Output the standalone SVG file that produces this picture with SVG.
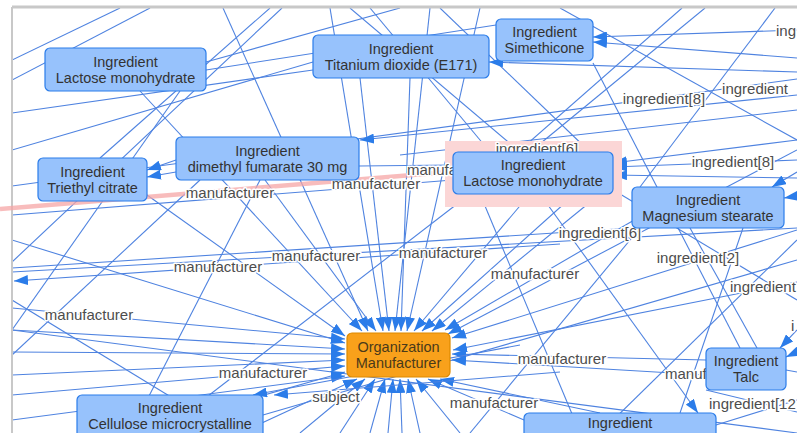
<svg xmlns="http://www.w3.org/2000/svg" width="797" height="433" viewBox="0 0 797 433">
<style>
.e{stroke:#4f83e0;stroke-width:1.1;fill:none}
.a{marker-end:url(#ah)}
.n{fill:#97C2FC;stroke:#2B7CE9;stroke-width:1.2}
.t{font-family:"Liberation Sans",Arial,sans-serif;font-size:14.5px;fill:#333;text-anchor:middle}
.l{font-family:"Liberation Sans",Arial,sans-serif;font-size:15px;fill:#4d4d4d;stroke:#fff;stroke-width:3;paint-order:stroke;stroke-linejoin:round}
.m{text-anchor:middle}
</style>
<defs>
<marker id="ah" viewBox="0 0 14 10" refX="14" refY="5" markerWidth="14" markerHeight="10" markerUnits="userSpaceOnUse" orient="auto"><path d="M0,0 L14,5 L0,10 z" fill="#2B7CE9"/></marker>
<clipPath id="cp"><rect x="12" y="8" width="785" height="425"/></clipPath>
</defs>
<rect width="797" height="433" fill="#fff"/>
<g id="connectors" clip-path="url(#cp)">
<g class="e">
<line x1="12" y1="60" x2="120" y2="8"/>
<line x1="206" y1="62" x2="400" y2="8"/>
<line x1="12" y1="113" x2="313" y2="70"/>
<line x1="180" y1="91" x2="12" y2="330"/>
<line x1="270" y1="8" x2="100" y2="158"/>
<line x1="282" y1="8" x2="12" y2="262"/>
<line x1="12" y1="186" x2="797" y2="79"/>
<line x1="12" y1="272" x2="797" y2="228"/>
<line x1="12" y1="215" x2="453" y2="180"/>
<line x1="593" y1="63" x2="740" y2="348"/>
<line x1="12" y1="268" x2="632" y2="228"/>
<line x1="400" y1="155" x2="797" y2="110"/>
<line x1="706" y1="390" x2="797" y2="412"/>
<line x1="743" y1="228" x2="680" y2="413"/>
<line x1="690" y1="228" x2="757" y2="348"/>
<line x1="480" y1="194" x2="580" y2="433"/>
<line x1="130" y1="433" x2="260" y2="180"/>
<line x1="12" y1="355" x2="200" y2="180"/>
<line x1="160" y1="433" x2="470" y2="194"/>
<line x1="263" y1="415" x2="797" y2="260"/>
<line x1="350" y1="8" x2="520" y2="152"/>
<line x1="370" y1="8" x2="490" y2="152"/>
<line x1="682" y1="8" x2="470" y2="194"/>
<line x1="705" y1="8" x2="530" y2="152"/>
<line x1="775" y1="8" x2="640" y2="187"/>
<line x1="206" y1="70" x2="496" y2="25"/>
<line x1="12" y1="150" x2="313" y2="62"/>
<line x1="359" y1="166" x2="453" y2="165"/>
<line x1="716" y1="425" x2="797" y2="400"/>
<line x1="786" y1="370" x2="797" y2="372"/>
<line x1="560" y1="8" x2="797" y2="140"/>
<line x1="12" y1="330" x2="797" y2="433"/>
<line x1="440" y1="8" x2="590" y2="152"/>
<line x1="150" y1="8" x2="12" y2="80"/>
<line x1="620" y1="194" x2="797" y2="300"/>
<line x1="230" y1="433" x2="12" y2="300"/>
<line x1="600" y1="433" x2="797" y2="240"/>
<line x1="470" y1="433" x2="640" y2="228"/>
</g>
<g class="e a">
<line x1="140" y1="91" x2="362" y2="331"/>
<line x1="223" y1="8" x2="368" y2="331"/>
<line x1="265" y1="180" x2="376" y2="331"/>
<line x1="330" y1="8" x2="383" y2="331"/>
<line x1="360" y1="78" x2="389" y2="331"/>
<line x1="430" y1="8" x2="395" y2="331"/>
<line x1="410" y1="78" x2="401" y2="331"/>
<line x1="480" y1="8" x2="407" y2="331"/>
<line x1="530" y1="194" x2="414" y2="331"/>
<line x1="575" y1="194" x2="422" y2="331"/>
<line x1="600" y1="194" x2="432" y2="331"/>
<line x1="660" y1="205" x2="445" y2="330"/>
<line x1="797" y1="150" x2="448" y2="334"/>
<line x1="797" y1="230" x2="452" y2="338"/>
<line x1="797" y1="282" x2="453" y2="350"/>
<line x1="706" y1="360" x2="452" y2="354"/>
<line x1="706" y1="375" x2="452" y2="360"/>
<line x1="524" y1="420" x2="428" y2="379"/>
<line x1="600" y1="413" x2="440" y2="379"/>
<line x1="460" y1="433" x2="416" y2="379"/>
<line x1="420" y1="433" x2="408" y2="379"/>
<line x1="402" y1="433" x2="400" y2="379"/>
<line x1="388" y1="433" x2="393" y2="379"/>
<line x1="370" y1="433" x2="385" y2="379"/>
<line x1="340" y1="433" x2="375" y2="379"/>
<line x1="300" y1="433" x2="365" y2="379"/>
<line x1="240" y1="433" x2="357" y2="379"/>
<line x1="147" y1="195" x2="345" y2="336"/>
<line x1="12" y1="240" x2="345" y2="343"/>
<line x1="12" y1="308" x2="345" y2="339"/>
<line x1="12" y1="330" x2="345" y2="349"/>
<line x1="12" y1="352" x2="345" y2="354"/>
<line x1="12" y1="375" x2="345" y2="360"/>
<line x1="12" y1="395" x2="345" y2="366"/>
<line x1="130" y1="433" x2="345" y2="372"/>
<line x1="12" y1="420" x2="345" y2="376"/>
<line x1="176" y1="160" x2="147" y2="170"/>
<line x1="176" y1="172" x2="147" y2="177"/>
<line x1="797" y1="95" x2="360" y2="140"/>
<line x1="797" y1="30" x2="593" y2="37"/>
<line x1="797" y1="58" x2="593" y2="42"/>
<line x1="797" y1="72" x2="489" y2="62"/>
<line x1="797" y1="140" x2="613" y2="163"/>
<line x1="797" y1="160" x2="613" y2="167"/>
<line x1="797" y1="178" x2="613" y2="175"/>
<line x1="797" y1="172" x2="772" y2="187"/>
<line x1="797" y1="196" x2="784" y2="198"/>
<line x1="797" y1="330" x2="780" y2="348"/>
<line x1="797" y1="352" x2="786" y2="357"/>
<line x1="540" y1="194" x2="698" y2="413"/>
<line x1="520" y1="345" x2="253" y2="395"/>
<line x1="560" y1="372" x2="274" y2="395"/>
<line x1="560" y1="244" x2="14" y2="281"/>
</g>
</g>
<g id="frame" fill="none" stroke="#c8c8c8">
<line x1="12" y1="7" x2="797" y2="7" stroke-width="3"/>
<line x1="12" y1="7" x2="12" y2="433" stroke-width="2"/>
</g>
<g id="highlight">
<line x1="0" y1="209" x2="449" y2="172" stroke="#f5a6a6" stroke-opacity="0.75" stroke-width="4.5"/>
<rect x="445" y="141" width="177" height="66" fill="#fbd6d6"/>
</g>
<g id="edge-labels" clip-path="url(#cp)">
<text class="l" x="776" y="36">ing</text>
<text class="l m" x="664" y="104">ingredient[8]</text>
<text class="l m" x="755" y="94">ingredient</text>
<text class="l m" x="537" y="154">ingredient[6]</text>
<text class="l m" x="733" y="167">ingredient[8]</text>
<text class="l m" x="230" y="198">manufacturer</text>
<text class="l m" x="376" y="189">manufacturer</text>
<text class="l" x="407" y="175">manufa</text>
<text class="l m" x="600" y="238">ingredient[6]</text>
<text class="l m" x="698" y="263">ingredient[2]</text>
<text class="l" x="730" y="292">ingredient</text>
<text class="l m" x="443" y="258">manufacturer</text>
<text class="l m" x="535" y="279">manufacturer</text>
<text class="l m" x="316" y="261">manufacturer</text>
<text class="l m" x="218" y="272">manufacturer</text>
<text class="l m" x="89" y="320">manufacturer</text>
<text class="l m" x="263" y="378">manufacturer</text>
<text class="l m" x="336" y="402">subject</text>
<text class="l m" x="562" y="364">manufacturer</text>
<text class="l" x="665" y="379">manuf</text>
<text class="l m" x="494" y="408">manufacturer</text>
<text class="l" x="709" y="409">ingredient[12</text>
<text class="l" x="791" y="331">i</text>
</g>
<g id="node-lactose-1"><rect class="n" x="45" y="48" width="161" height="43" rx="5"/><text class="t"><tspan x="125.5" y="66.5">Ingredient</tspan><tspan x="125.5" y="82.5">Lactose monohydrate</tspan></text></g>
<g id="node-titanium"><rect class="n" x="313" y="35" width="176" height="43" rx="5"/><text class="t"><tspan x="401" y="53.5">Ingredient</tspan><tspan x="401" y="69.5">Titanium dioxide (E171)</tspan></text></g>
<g id="node-simethicone"><rect class="n" x="496" y="19" width="97" height="42" rx="5"/><text class="t"><tspan x="544.5" y="37">Ingredient</tspan><tspan x="544.5" y="53">Simethicone</tspan></text></g>
<g id="node-dimethyl"><rect class="n" x="176" y="137" width="183" height="43" rx="5"/><text class="t"><tspan x="267.5" y="155.5">Ingredient</tspan><tspan x="267.5" y="171.5">dimethyl fumarate 30 mg</tspan></text></g>
<g id="node-triethyl"><rect class="n" x="38" y="158" width="109" height="43" rx="5"/><text class="t"><tspan x="92.5" y="176.5">Ingredient</tspan><tspan x="92.5" y="192.5">Triethyl citrate</tspan></text></g>
<g id="node-lactose-2"><rect class="n" x="453" y="152" width="160" height="42" rx="5"/><text class="t"><tspan x="533" y="170">Ingredient</tspan><tspan x="533" y="186">Lactose monohydrate</tspan></text></g>
<g id="node-magnesium"><rect class="n" x="632" y="187" width="152" height="41" rx="5"/><text class="t"><tspan x="708" y="204.5">Ingredient</tspan><tspan x="708" y="220.5">Magnesium stearate</tspan></text></g>
<g id="node-org"><rect x="347" y="333" width="103" height="44" rx="5" fill="#f9a11b" stroke="#dd8a00" stroke-width="1.2"/><text class="t" style="fill:#4a3a1a"><tspan x="398.5" y="352">Organization</tspan><tspan x="398.5" y="368">Manufacturer</tspan></text></g>
<g id="node-talc"><rect class="n" x="706" y="348" width="80" height="42" rx="5"/><text class="t"><tspan x="746" y="366">Ingredient</tspan><tspan x="746" y="382">Talc</tspan></text></g>
<g id="node-cellulose"><rect class="n" x="77" y="395" width="186" height="50" rx="5"/><text class="t"><tspan x="170" y="413">Ingredient</tspan><tspan x="170" y="429">Cellulose microcrystalline</tspan></text></g>
<g id="node-bottom"><rect class="n" x="524" y="413" width="192" height="40" rx="5"/><text class="t" x="620" y="428">Ingredient</text></g>
</svg>
